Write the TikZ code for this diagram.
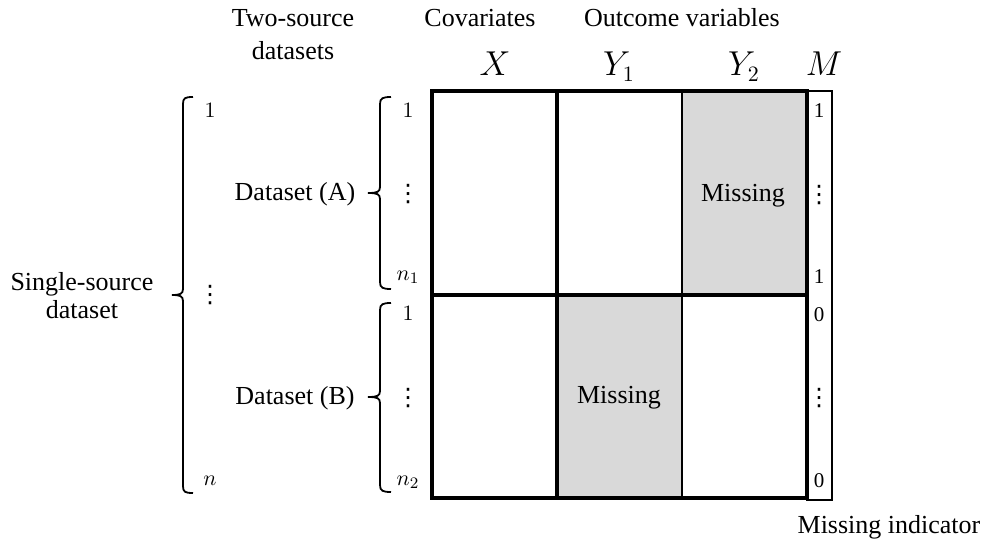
\documentclass[tikz,border=0pt]{standalone}
\usepackage{fontspec}
\setmainfont{Liberation Serif}
\newfontfamily\dejavu{DejaVu Sans}
\definecolor{missgray}{HTML}{D9D9D9}
\newcommand\myvdots{{\dejavu ⋮}}
\begin{document}
\begin{tikzpicture}[x=0.5pt,y=-0.5pt,
  txt/.style={font=\fontsize{13}{15}\selectfont, inner sep=0pt},
  mathhead/.style={font=\fontsize{16}{18}\selectfont, inner sep=0pt},
  idx/.style={font=\fontsize{11}{12}\selectfont, inner sep=0pt},
  mval/.style={font=\fontsize{10.5}{12}\selectfont, inner sep=0pt},
  dots/.style={font=\fontsize{12}{13}\selectfont, inner sep=0pt},
  thickline/.style={line width=1.7pt},
  thinline/.style={line width=0.7pt},
  brack/.style={line width=0.9pt}]
\useasboundingbox (0,0) rectangle (987,540);
% shaded cells
\fill[missgray] (682,91) rectangle (807,295);
\fill[missgray] (557,295) rectangle (682,498);
% grid
\draw[thinline] (682,91) -- (682,498);
\draw[thinline] (807,91) rectangle (832,500);
\draw[thickline] (432,91) rectangle (807,498);
\draw[thickline] (432,295) -- (807,295);
\draw[thickline] (557,91) -- (557,498);
% cell texts
\node[txt] (missA) at (743,196) {Missing};
\node[txt] (missB) at (619,398) {Missing};
% headers
\node[txt, anchor=base] (two) at (293,27) {Two-source};
\node[txt, anchor=base] (two2) at (293,60) {datasets};
\node[txt, anchor=base] (cov) at (480,27) {Covariates};
\node[txt, anchor=base] (out) at (682,27) {Outcome variables};
\node[mathhead, anchor=base] (X) at (495,76) {$X$};
\node[mathhead, anchor=base] (Y1) at (619,76) {$Y_1$};
\node[mathhead, anchor=base] (Y2) at (744,76) {$Y_2$};
\node[mathhead, anchor=base] (M) at (824,76) {$M$};
\node[txt] (mi) at (889,527) {Missing indicator};
% left labels
\node[txt, align=center, font=\fontsize{13}{14}\selectfont] (single) at (82,296) {Single-source\\dataset};
\node[txt] (dA) at (295,194) {Dataset (A)};
\node[txt] (dB) at (295,398) {Dataset (B)};
% brackets
\draw[brack] (193,97) .. controls (185,97) and (183,98) .. (183,104) -- (183,289)
  .. controls (183,294) and (180,295) .. (172,295)
  .. controls (180,295) and (183,296) .. (183,301) -- (183,486)
  .. controls (183,492) and (185,493) .. (193,493);
\draw[brack] (391,97) .. controls (383,97) and (380,98) .. (380,104) -- (380,187)
  .. controls (380,192) and (377,193) .. (368,193)
  .. controls (377,193) and (380,194) .. (380,199) -- (380,282)
  .. controls (380,288) and (383,289) .. (391,289);
\draw[brack] (391,303) .. controls (383,303) and (380,304) .. (380,310) -- (380,391)
  .. controls (380,396) and (377,397) .. (368,397)
  .. controls (377,397) and (380,398) .. (380,403) -- (380,485)
  .. controls (380,491) and (383,492) .. (391,492);
% bracket indices
\node[idx] (s1) at (210,110) {$1$};
\node[dots] (sd) at (210,295) {\myvdots};
\node[idx] (sn) at (210,481) {$n$};
\node[idx] (a1) at (408,110) {$1$};
\node[dots] (ad) at (408,194) {\myvdots};
\node[idx] (an) at (408,277) {$n_1$};
\node[idx] (b1) at (408,313) {$1$};
\node[dots] (bd) at (408,398) {\myvdots};
\node[idx] (bn) at (408,482) {$n_2$};
% M column
\node[mval] (m1) at (819,111) {1};
\node[dots] (md1) at (819,195) {\myvdots};
\node[mval] (m2) at (819,277) {1};
\node[mval] (m3) at (819,315) {0};
\node[dots] (md2) at (819,398) {\myvdots};
\node[mval] (m4) at (819,481) {0};
\end{tikzpicture}
\end{document}
